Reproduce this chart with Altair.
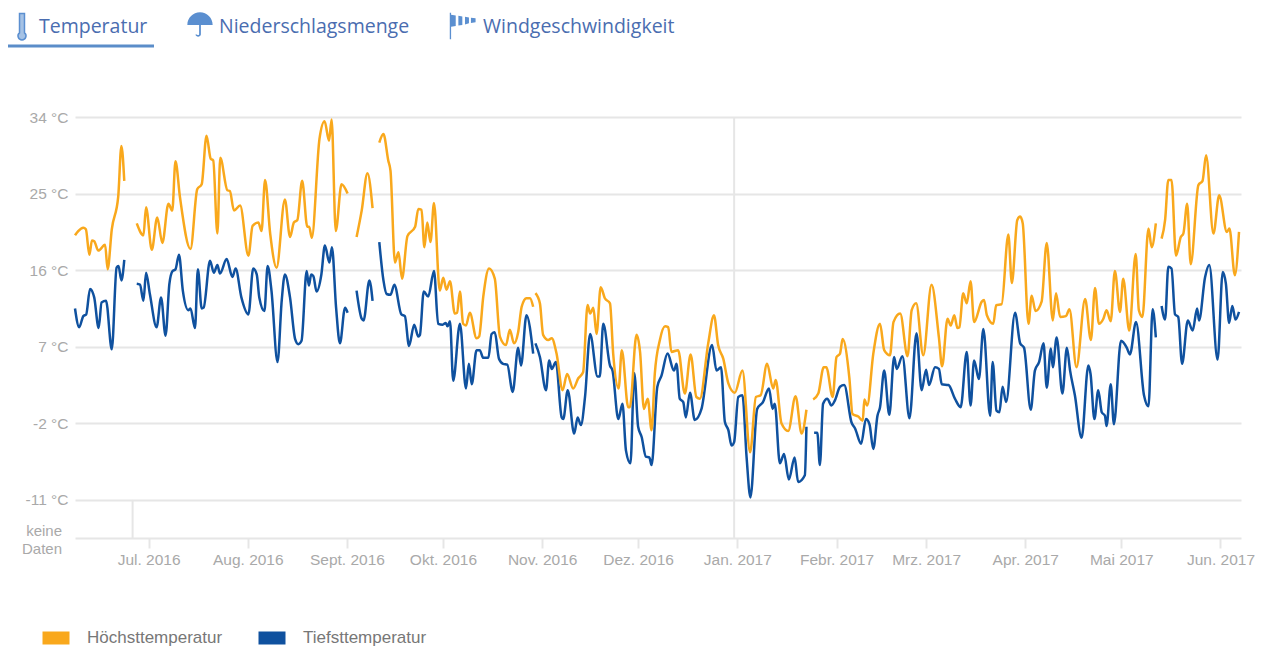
import altair as alt
import pandas as pd

# (day since 8 Jun 2016, degrees C)
high_1 = [(0,20.1),(1,20.6),(2.6,21),(3.4,20.8),(4.5,17.8),(5.3,19.5),(6,19.4),(7.3,18.3),(9.4,19),(10.2,16.1),(11.5,20.8),(13.5,24.6),(14.5,30.6),(15.4,26.5)]
high_2 = [(19.3,21.5),(21.4,20.1),(22.2,23.4),(24,18.4),(25.7,22.2),(27.3,19.2),(29.2,23.8),(30.4,23),(31.4,28.8),(32.8,24.6),(36.1,18.5),(38.2,25.5),(39.6,26.1),(41.1,31.8),(42.4,29.1),(43.2,28.9),(44.5,20.3),(45.4,29.2),(47.6,25.4),(48.4,25.3),(49.7,23),(51.6,23.6),(54.2,17.7),(55.5,21.2),(57.3,21.6),(58.3,20.6),(59.4,26.6),(61,20.3),(63,16.3),(65.6,24.3),(67.2,19.9),(68.4,21.6),(69.5,21.9),(71,26.5),(72.6,21.1),(73.2,21.1),(74,19.8),(76.4,31.4),(78,33.5),(79.4,31.2),(80.2,33.7),(81.5,20.6),(83.3,26.1),(85.2,25)]
high_3 = [(88,19.9),(89.6,23),(91.4,27.4),(93,23.3)]
high_4 = [(95.1,31),(96.4,32),(97.9,28.9),(98.6,27.7),(100,16.9),(101.1,18.1),(102.2,15),(103.9,20),(106.3,21.1),(107.3,23.2),(108.3,23.1),(109.2,18.7),(110.1,21.6),(111.1,19.3),(112.2,23.9),(114,13.6),(115.1,15.1),(116.1,13.7),(117.2,14.7),(118.7,10.9),(119.4,11),(120.3,13.5),(121.3,9.7),(122.2,9.5),(123.4,11),(125.5,8),(126.3,8.2),(127.6,12.9),(129.4,16.2),(131.2,15),(132.8,8.2),(134.7,7.2),(135.9,9),(137.2,7.4),(138.5,8.7),(139.6,11.7),(141.1,12.7),(142.2,12.7),(143.2,11.7)]
high_5 = [(143.9,13.3),(145.3,12.1),(146.3,8.4),(147.9,7.8),(149,8),(150.5,6.2),(152.4,1.9),(153.8,3.8),(155.7,2.1),(157.3,3.3),(158.8,4),(160.2,11.9),(161,10.9),(162,11.6),(163,8.5),(164.3,14),(165.6,12.7),(167.2,12.1),(168.2,6.2),(169.9,2.1),(170.9,6.6),(172.9,-0.1),(173.4,-0.1),(175.5,8.4),(176.6,6.4),(177.8,-0.3),(179,0.9),(180.2,-2.8),(181.2,3.8),(182.8,7.8),(184.4,9.4),(185.4,9.3),(186.4,6.4),(188.5,6.6),(190.6,1.5),(192.4,6.1),(194.2,1.1),(195.3,0.9),(197.9,7.4),(199.7,10.7),(201,7.2),(202.6,5.6),(204.2,2.7),(206.2,1.6),(208.6,4.2),(211,-5.4),(212.8,1.1),(214.3,1.3),(216.3,5),(218.2,2.1),(219,3.1),(220.8,-2),(222.9,-2.9),(225.2,1.2),(227.1,-3.2),(228.6,-0.4)]
high_6 = [(230.7,0.8),(232.3,1.5),(234,4.6),(234.8,4.6),(236.8,1.1),(238,5.8),(239.1,6.2),(239.9,7.9),(242,3.4),(243,-0.9),(244.8,-1.2),(246.2,-1.7),(246.7,0.8),(247.6,0.1),(249.5,6.2),(251.6,9.7),(252.9,6.6),(254.7,6),(255.8,9.9),(257.9,10.9),(260.2,5.9),(261.5,11.3),(262.9,12.1),(265.1,6),(267.7,14.3),(270,8.1),(271,4.7),(272.7,10.3),(273.7,9.5),(274.8,10.7),(275.8,9.2),(276.4,9.3),(277.6,13.3),(278.7,12.1),(279.9,14.7),(281,9.9),(283.4,12.3),(284.1,12.5),(285,10.7),(287,9.7),(287.9,11.9),(289.6,12),(291.7,20.2),(292.8,14.5),(294.5,21.9),(295.4,22.3),(296.2,21.5),(298,9.7),(299,13),(300.2,11.2),(302.1,12.3),(303.7,19.2),(305.6,10.1),(306.6,13.3),(307.9,10.5),(309.7,10.6),(310.8,11.4),(313,4.6),(315.7,12.6),(317.5,7.8),(318.8,13.9),(320,9.7),(321.4,10.3),(322.4,11.3),(323.7,10),(325,15.9),(326.6,11.1),(327.6,15),(329.5,8.9),(331.5,17.9),(332.5,11.3),(333.6,10.5),(335.5,20.9),(336.5,18.7),(337.8,21.5)]
high_7 = [(339.6,19.7),(340.7,21.9),(341.7,26.6),(342.7,26.6),(344.1,17.7),(345.6,19.9),(346.4,20.3),(347.6,23.8),(348.7,16.7),(351.1,26),(352.4,26.5),(353.5,29.5),(355.8,20.3),(357.6,24.8),(360,20.5),(360.8,20.9),(362.5,15.4),(363.8,20.5)]

low_1 = [(0,11.5),(1.3,9.3),(2.6,10.6),(3.5,10.8),(4.7,13.8),(6,12.8),(7.4,9.2),(8.3,12.2),(9.7,12.4),(11.5,6.7),(13,16.3),(13.6,16.5),(14.5,14.8),(15.4,17.2)]
low_2 = [(19.3,14.4),(20.3,14.3),(21.4,12.4),(22.2,15.7),(23.4,13.2),(25.5,9.3),(26.9,12.8),(28.3,8.3),(29.5,14.4),(30.5,15.9),(31.4,16.1),(32.5,17.8),(33.7,13.6),(35.4,11.3),(36.1,11.5),(37.5,9.2),(38.4,16.1),(39.6,11.5),(40.2,11.6),(42.2,17.1),(43.4,15.7),(44.5,16.6),(45.3,15.6),(47.4,17.3),(49.2,15.2),(50.2,16.2),(52,12.8),(54.2,10.8),(55.7,16.2),(56.8,15.5),(57.6,12.8),(59.2,11.2),(60.2,16.5),(61.4,13.6),(63.3,5.2),(64.6,12.4),(65.6,15.5),(67.2,12.8),(68.8,7.9),(69.8,7.3),(70.8,7.7),(72.4,15.9),(73.1,14.2),(73.8,15.5),(74.5,15.3),(75.5,13.5),(77,15.5),(78.1,18.9),(79.5,16.9),(80.3,18.7),(81.6,11.6),(82.8,7.4),(84.4,11.6),(85.2,11)]
low_3 = [(88,13.6),(89.6,10.3),(90.2,10.1),(92,14.8),(93,12.4)]
low_4 = [(95.1,19.3),(96.4,14.8),(97.4,13.2),(98.6,13.1),(99.8,14.3),(102,10.8),(103.1,10.6),(104.4,7.1),(106,9.6),(107.3,8.2),(107.8,8.4),(109,13.5),(110.4,12.9),(112.2,15.9),(113.5,9.7),(114.9,9.6),(115.9,9.8),(116.4,9.4),(117.2,10),(118.2,3),(120.3,9.7),(122.2,2.1),(123.1,5),(124,2.6),(125.5,6.6),(126.5,6.6),(127.6,5.7),(129.2,5.7),(130.2,8.5),(131.2,8.7),(132.5,5.6),(133.8,5),(135.1,4.9),(136.8,1.7),(138.5,6.9),(139.4,4.8),(141.1,10.7),(143.2,6.2)]
low_5 = [(143.9,7.4),(145.3,5.8),(147.2,1.9),(148.2,5.4),(149,4.4),(150.3,5.2),(152.1,-1.3),(152.6,-1.5),(154,1.9),(156,-3.2),(157.1,-1.3),(158.1,-2.2),(159.4,1.1),(161,8.5),(163.3,3.5),(164,3.5),(165.1,9.7),(167.2,4.8),(168,4.2),(169.8,-1.5),(171.1,0.3),(172.2,-5.2),(173.6,-6.7),(174.8,3.9),(176,-2.4),(177.1,-3.6),(178.4,-5.9),(179.5,-6),(180.2,-6.9),(182,2.3),(183.3,3.6),(185.2,6.2),(187.2,4.2),(188,5),(189,0.9),(190.1,0.5),(190.9,-1.3),(192.2,1.6),(193.7,-1.6),(195.8,-0.3),(199.1,7.2),(200.5,4.2),(201.9,4.6),(203.1,-1.8),(204.2,-2.8),(205.2,-4.6),(206,-4.2),(207.3,1.1),(208.6,1.3),(209.9,-6),(211.1,-10.7),(213.2,-0.3),(215,0.5),(216.9,2.1),(218,-0.3),(218.7,0.3),(220.3,-6.7),(221.6,-5.6),(223.1,-8.6),(224.9,-6),(226,-8.9),(228.1,-8.1),(228.6,-2.4)]
low_6 = [(231,-3.1),(232,-3.1),(232.8,-6.9),(233.8,0.3),(235.1,0.9),(236.4,0.1),(237.5,0.7),(239.1,2.3),(240.4,2.5),(242.7,-1.9),(243.8,-2.6),(245.7,-4.4),(247.2,-1.5),(248.3,-2.1),(249.5,-5),(250.8,-1.1),(251.6,-0.1),(252.9,4.2),(254.5,-1),(256,5.8),(256.8,4.4),(258.6,5.9),(260.8,-1.4),(263,8.6),(264.6,1.9),(266,4.3),(266.9,2.5),(268.8,4.6),(270,4.4),(270.9,2.6),(273,2.5),(275,0.9),(276.8,-0.1),(278.7,6.4),(279.9,0.1),(281,5.4),(282.5,3.2),(283.9,9.1),(286,-1.1),(286.8,5.2),(288,-0.5),(288.9,-0.7),(289.9,2.3),(291,0.5),(293.8,11),(295.4,7.4),(296.6,6.9),(298.7,-0.4),(300,4.2),(301.3,5.2),(302.7,7.4),(303.7,2.2),(305,6.8),(305.6,4.6),(306.8,8.1),(308.6,1.5),(310,6.9),(311,4.2),(312.5,1.3),(314.6,-3.7),(316.7,4.8),(317.4,3.8),(318.6,-1.5),(319.8,1.9),(320.9,-0.7),(321.9,-1.1),(322.4,-2.3),(323.7,2.6),(324.7,-2.1),(326.9,7.7),(328.7,6.9),(329.7,6.1),(331.6,9.9),(334.1,1.3),(335.5,0),(336.8,11.4),(337.8,8.1)]
low_7 = [(339.6,11.8),(340.7,10.2),(341.7,16.4),(342.7,16.2),(343.8,10.8),(344.8,10.5),(346,5),(347.8,10.1),(349.3,8.9),(350.7,11.5),(351.3,10.1),(353.2,15.2),(354.5,16.6),(357.1,5.5),(358.7,15.8),(359.7,14.4),(360.7,9.8),(361.7,11.8),(362.7,10.2),(363.8,11.1)]

series_names = ["Höchsttemperatur", "Tiefsttemperatur"]
series_colors = ["#f9a81c", "#0f519f"]
y_ticks = [34, 25, 16, 7, -2, -11]
month_labels = ["Jan. 2017", "Febr. 2017", "Mrz. 2017", "Apr. 2017", "Mai 2017", "Jun. 2017",
                "Jul. 2016", "Aug. 2016", "Sept. 2016", "Okt. 2016", "Nov. 2016", "Dez. 2016"]
month_ticks = [(2016, m) for m in range(7, 13)] + [(2017, m) for m in range(1, 7)]
rule_days = [18, 206]
rule_tops = [-11, 34]
Y_MIN = -15.47
T0 = pd.Timestamp("2016-06-08")
GREY = "#e6e6e6"
LABEL = "#a9a9a9"


def rows(name, segs, prefix):
    out = []
    for i, seg in enumerate(segs):
        for d, v in seg:
            out.append({"date": (T0 + pd.to_timedelta(d, unit="D")).strftime("%Y-%m-%dT%H:%M:%S"),
                        "value": v, "series": name, "seg": f"{prefix}{i}"})
    return out


lines_df = pd.DataFrame(
    rows(series_names[1], [low_1, low_2, low_3, low_4, low_5, low_6, low_7], "l")
    + rows(series_names[0], [high_1, high_2, high_3, high_4, high_5, high_6, high_7], "h")
)
rules_df = pd.DataFrame({
    "date": [(T0 + pd.to_timedelta(d, unit="D")).strftime("%Y-%m-%dT%H:%M:%S") for d in rule_days],
    "top": rule_tops,
    "bottom": [Y_MIN] * len(rule_days),
})

x_scale = alt.Scale(domain=[alt.DateTime(year=2016, month=6, date=8),
                            alt.DateTime(year=2017, month=6, date=7, hours=10)])
y_scale = alt.Scale(domain=[Y_MIN, 34], nice=False, zero=False)

x_axis = alt.Axis(
    title=None,
    values=[alt.DateTime(year=y, month=m, date=1) for y, m in month_ticks],
    labelExpr="[" + ",".join(f"'{s}'" for s in month_labels) + "][month(datum.value)]",
    labelFont="Liberation Sans", labelFontSize=15.5, labelColor=LABEL,
    labelOverlap=False, labelPadding=4, labelFlush=False,
    tickColor=GREY, tickSize=10, tickWidth=2,
    domainColor=GREY, domainWidth=2, grid=False,
)
y_axis = alt.Axis(
    title=None, values=y_ticks, labelExpr="datum.value + ' °C'",
    labelFont="Liberation Sans", labelFontSize=15.5, labelColor=LABEL, labelPadding=7,
    ticks=False, domain=False, grid=True, gridColor=GREY, gridWidth=2,
)

rules = alt.Chart(rules_df).mark_rule(color=GREY, strokeWidth=2).encode(
    x=alt.X("date:T", scale=x_scale, axis=x_axis),
    y=alt.Y("top:Q", scale=y_scale, axis=y_axis),
    y2="bottom:Q",
)

lines = alt.Chart(lines_df).mark_line(strokeWidth=2.5, interpolate="monotone", strokeJoin="round").encode(
    x=alt.X("date:T", scale=x_scale, axis=x_axis),
    y=alt.Y("value:Q", scale=y_scale, axis=y_axis),
    detail="seg:N",
    color=alt.Color("series:N",
                    scale=alt.Scale(domain=series_names, range=series_colors),
                    legend=alt.Legend(title=None, orient="none", legendX=-39, legendY=501,
                                      direction="horizontal", symbolType="stroke",
                                      symbolSize=729, symbolStrokeWidth=13, symbolOpacity=1,
                                      labelFont="Liberation Sans", labelFontSize=17,
                                      labelColor="#777777", labelOffset=11, columnPadding=9)),
)

one = {"values": [{}]}
TAB = "#4a6db0"
ICON = "#5b8fd0"


def text(label, x, y, **kw):
    style = dict(align="left", baseline="middle", font="Open Sans", fontSize=19.5, color=TAB)
    style.update(kw)
    return alt.Chart(one).mark_text(**style).encode(
        x=alt.value(x), y=alt.value(y), text=alt.value(label))


def icon(path, x, y, size, **kw):
    style = dict(shape=path, size=size, filled=True, color=ICON, opacity=1)
    style.update(kw)
    return alt.Chart(one).mark_point(**style).encode(x=alt.value(x), y=alt.value(y))


thermo = "M-0.2,-1 L0.2,-1 L0.2,0.55 A0.32,0.32 0 1 1 -0.2,0.55 Z"
umbrella = ("M-1,0 A1,1 0 0 1 1,0 Z M-0.07,0 L0.07,0 L0.07,0.75 "
            "A0.22,0.22 0 0 1 -0.36,0.75 L-0.24,0.75 A0.1,0.1 0 0 0 -0.07,0.75 Z")
sock = ("M-1,-1 L-0.9,-1 L-0.9,1 L-1,1 Z M-0.9,-0.85 L-0.55,-0.8 L-0.55,0 L-0.9,0.05 Z "
        "M-0.35,-0.78 L-0.05,-0.72 L-0.05,-0.08 L-0.35,-0.03 Z "
        "M0.15,-0.7 L0.45,-0.65 L0.45,-0.2 L0.15,-0.12 Z M0.6,-0.62 L0.95,-0.58 L0.95,-0.28 L0.6,-0.22 Z")

decor = [
    text("Temperatur", -36, -90),
    text("Niederschlagsmenge", 144, -90),
    text("Windgeschwindigkeit", 408, -90),
    icon(thermo, -53, -91, 620, fill=ICON, fillOpacity=0.55, stroke=ICON, strokeWidth=1.5),
    icon(umbrella, 125, -92, 640),
    icon(sock, 388, -91, 700),
    alt.Chart(one).mark_rule(color="#5b8dc9", strokeWidth=3).encode(
        x=alt.value(-72), x2=alt.value(79), y=alt.value(-71)),
    text("keine", -13, 414, align="right", font="Liberation Sans", fontSize=15, color=LABEL),
    text("Daten", -13, 432, align="right", font="Liberation Sans", fontSize=15, color=LABEL),
]

chart = alt.layer(rules, lines, *decor).properties(
    width=1166, height=421,
    padding={"left": 67, "top": 109, "right": 14, "bottom": 110},
    autosize=alt.AutoSizeParams(type="none"),
).configure_view(stroke=None)

chart.save("out.html", embed_options={"renderer": "svg", "actions": False})
